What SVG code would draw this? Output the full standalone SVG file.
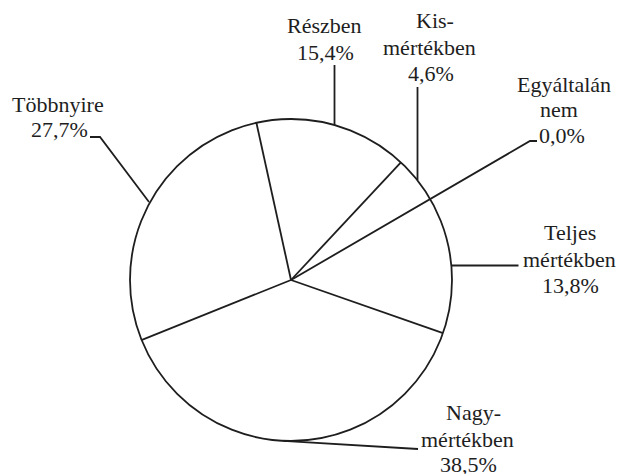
<svg xmlns="http://www.w3.org/2000/svg" width="620" height="474" viewBox="0 0 620 474" font-family="Times New Roman, Liberation Serif, serif">
  <style>
    .edge { fill: none; stroke: #1e1e1e; stroke-width: 1.8; }
    text { font-family: "Times New Roman", "Liberation Serif", serif; font-size: 22px; fill: #1e1e1e; }
  </style>
  <rect width="620" height="474" fill="#ffffff"/>

  <!-- pie: outline and slice boundaries, centre (291,280), r 161 -->
  <g id="pie">
    <circle class="edge" cx="291" cy="280" r="161"/>
    <line class="edge" x1="291" y1="280" x2="256.4" y2="122.8"/>
    <line class="edge" x1="291" y1="280" x2="400.9" y2="162.3"/>
    <line class="edge" x1="291" y1="280" x2="443" y2="333.2"/>
    <line class="edge" x1="291" y1="280" x2="142" y2="339.8"/>
  </g>

  <!-- leader lines from slices to their labels -->
  <g id="connectors">
    <polyline class="edge" points="90,137 100,137 149,202"/>
    <line class="edge" x1="334.5" y1="65" x2="334.5" y2="125"/>
    <line class="edge" x1="417.5" y1="87" x2="417.5" y2="180"/>
    <polyline class="edge" points="291,280 530,141 537,141"/>
    <line class="edge" x1="451.5" y1="265.5" x2="518.5" y2="265.5"/>
    <line class="edge" x1="283.3" y1="440.8" x2="418" y2="449"/>
  </g>

  <!-- slice labels, left-aligned -->
  <g id="label-tobbnyire">
    <text x="12" y="112">Többnyire</text>
    <text x="31" y="137">27,7%</text>
  </g>
  <g id="label-reszben">
    <text x="287" y="33">Részben</text>
    <text x="297" y="60">15,4%</text>
  </g>
  <g id="label-kismertekben">
    <text x="416" y="28">Kis-</text>
    <text x="383" y="55">mértékben</text>
    <text x="408" y="81">4,6%</text>
  </g>
  <g id="label-egyaltalan">
    <text x="517" y="92">Egyáltalán</text>
    <text x="540" y="117">nem</text>
    <text x="539" y="143">0,0%</text>
  </g>
  <g id="label-teljes">
    <text x="544" y="240">Teljes</text>
    <text x="523" y="267">mértékben</text>
    <text x="542" y="293">13,8%</text>
  </g>
  <g id="label-nagymertekben">
    <text x="446" y="420">Nagy-</text>
    <text x="421" y="446.5">mértékben</text>
    <text x="440" y="472">38,5%</text>
  </g>
</svg>
